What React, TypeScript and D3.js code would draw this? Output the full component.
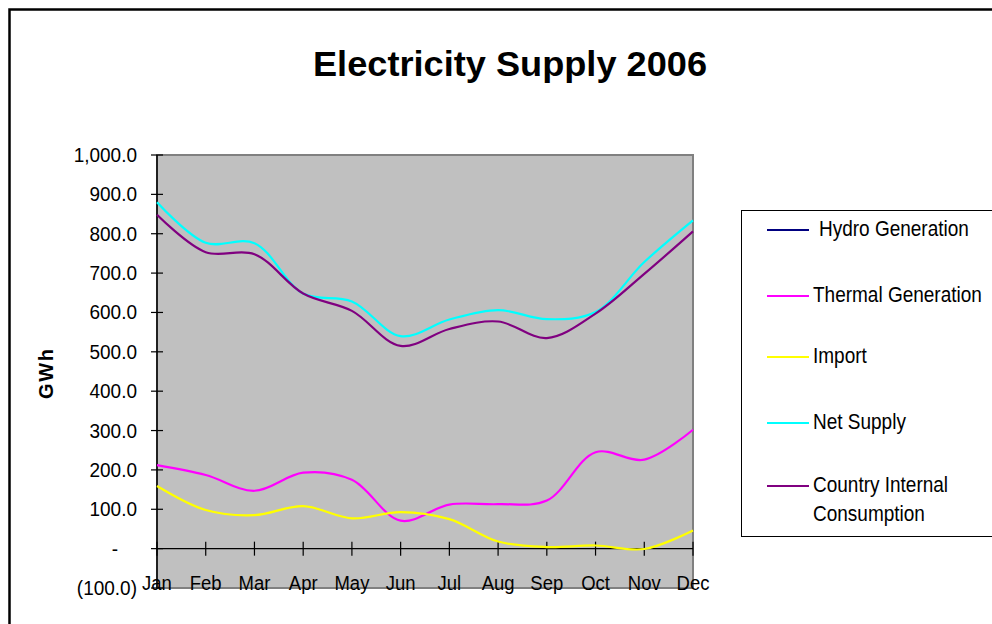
import React from "react";
import * as d3 from "d3";

// Monthly electricity supply figures, GWh
const months = ["Jan", "Feb", "Mar", "Apr", "May", "Jun", "Jul", "Aug", "Sep", "Oct", "Nov", "Dec"];
const hydroGeneration: (number | null)[] = [null, null, null, null, null, null, null, null, null, null, null, null];
const thermalGeneration = [212, 187, 147, 193, 175, 71, 112, 113, 122, 245, 226, 302];
const importSupply = [159, 98, 85, 108, 77, 93, 75, 18, 4, 8, -1, 46];
const netSupply = [880, 777, 776, 648, 628, 540, 582, 606, 583, 601, 728, 834];
const internalConsumption = [848, 753, 748, 648, 604, 515, 558, 577, 535, 597, 698, 806];

const yTicks = [-100, 0, 100, 200, 300, 400, 500, 600, 700, 800, 900, 1000];

const seriesList = [
  { name: "Hydro Generation", lines: [" Hydro Generation"], values: hydroGeneration, color: "#000080" },
  { name: "Thermal Generation", lines: ["Thermal Generation"], values: thermalGeneration, color: "#FF00FF" },
  { name: "Import", lines: ["Import"], values: importSupply, color: "#FFFF00" },
  { name: "Net Supply", lines: ["Net Supply"], values: netSupply, color: "#00FFFF" },
  { name: "Country Internal Consumption", lines: ["Country Internal", "Consumption"], values: internalConsumption, color: "#800080" },
];

const FONT = "'Liberation Sans', Arial, sans-serif";

const fmt = (v: number) => {
  if (v === 0) return "-";
  const s = d3.format(",.1f")(Math.abs(v));
  return v < 0 ? `(${s})` : s;
};

export default function App() {
  const plot = { left: 157, right: 693, top: 155, bottom: 588 };
  const x = d3.scalePoint<string>().domain(months).range([plot.left, plot.right]);
  const y = d3.scaleLinear().domain([-100, 1000]).range([plot.bottom, plot.top]);

  const line = d3
    .line<number | null>()
    .defined((d) => d !== null)
    .x((_, i) => x(months[i]) as number)
    .y((d) => y(d as number))
    .curve(d3.curveCatmullRom.alpha(0.5));

  const legendX = 741;
  const legendRows = [230, 296, 357, 423, 486];

  return (
    <svg
      width={992}
      height={624}
      style={{ position: "absolute", left: 0, top: 0, background: "#fff" }}
      fontFamily={FONT}
    >
      {/* chart frame */}
      <rect x={9.5} y={9.5} width={1000} height={640} fill="#fff" stroke="#000" strokeWidth={2.5} />

      <text
        transform="translate(510,76) scale(1,1.05)"
        textAnchor="middle"
        fontSize={34}
        fontWeight="bold"
        textLength={394}
        lengthAdjust="spacingAndGlyphs"
      >
        Electricity Supply 2006
      </text>

      {/* plot area */}
      <rect x={plot.left} y={plot.top} width={plot.right - plot.left} height={plot.bottom - plot.top} fill="#C0C0C0" stroke="#808080" strokeWidth={2} />

      {/* y axis */}
      <line x1={plot.left} x2={plot.left} y1={plot.top} y2={plot.bottom} stroke="#000" strokeWidth={1.5} />
      {yTicks.map((t) => (
        <g key={t}>
          <line x1={plot.left - 6} x2={plot.left + 6} y1={y(t)} y2={y(t)} stroke="#000" strokeWidth={1.2} />
          <text
            transform={`translate(${t === 0 ? 115 : 137},${y(t) + 7}) scale(1,1.08)`}
            textAnchor={t === 0 ? "middle" : "end"}
            fontSize={19}
          >
            {fmt(t)}
          </text>
        </g>
      ))}

      {/* category axis along zero */}
      <line x1={plot.left} x2={plot.right} y1={y(0)} y2={y(0)} stroke="#000" strokeWidth={1.2} />
      {months.map((m) => (
        <g key={m}>
          <line x1={x(m)} x2={x(m)} y1={y(0) - 7} y2={y(0) + 7} stroke="#000" strokeWidth={1.2} />
          <text transform={`translate(${x(m)},590) scale(1,1.1)`} textAnchor="middle" fontSize={18.5}>
            {m}
          </text>
        </g>
      ))}

      <text
        transform="translate(53,374) rotate(-90)"
        textAnchor="middle"
        fontSize={20}
        fontWeight="bold"
        textLength={50}
        lengthAdjust="spacing"
      >
        GWh
      </text>

      {/* series */}
      {seriesList.map((s) => (
        <path key={s.name} d={line(s.values) || ""} fill="none" stroke={s.color} strokeWidth={2.2} />
      ))}

      {/* legend */}
      <rect x={legendX + 0.5} y={210.5} width={300} height={326} fill="#fff" stroke="#000" strokeWidth={1} />
      {seriesList.map((s, i) => (
        <g key={s.name}>
          <line x1={767} x2={809} y1={legendRows[i]} y2={legendRows[i]} stroke={s.color} strokeWidth={2} />
          {s.lines.map((ln, j) => (
            <text
              key={j}
              transform={`translate(${ln.startsWith(" ") ? 819 : 813},${legendRows[i] + 6 + j * 29}) scale(1,1.14)`}
              fontSize={19}
            >
              {ln.trim()}
            </text>
          ))}
        </g>
      ))}
    </svg>
  );
}
